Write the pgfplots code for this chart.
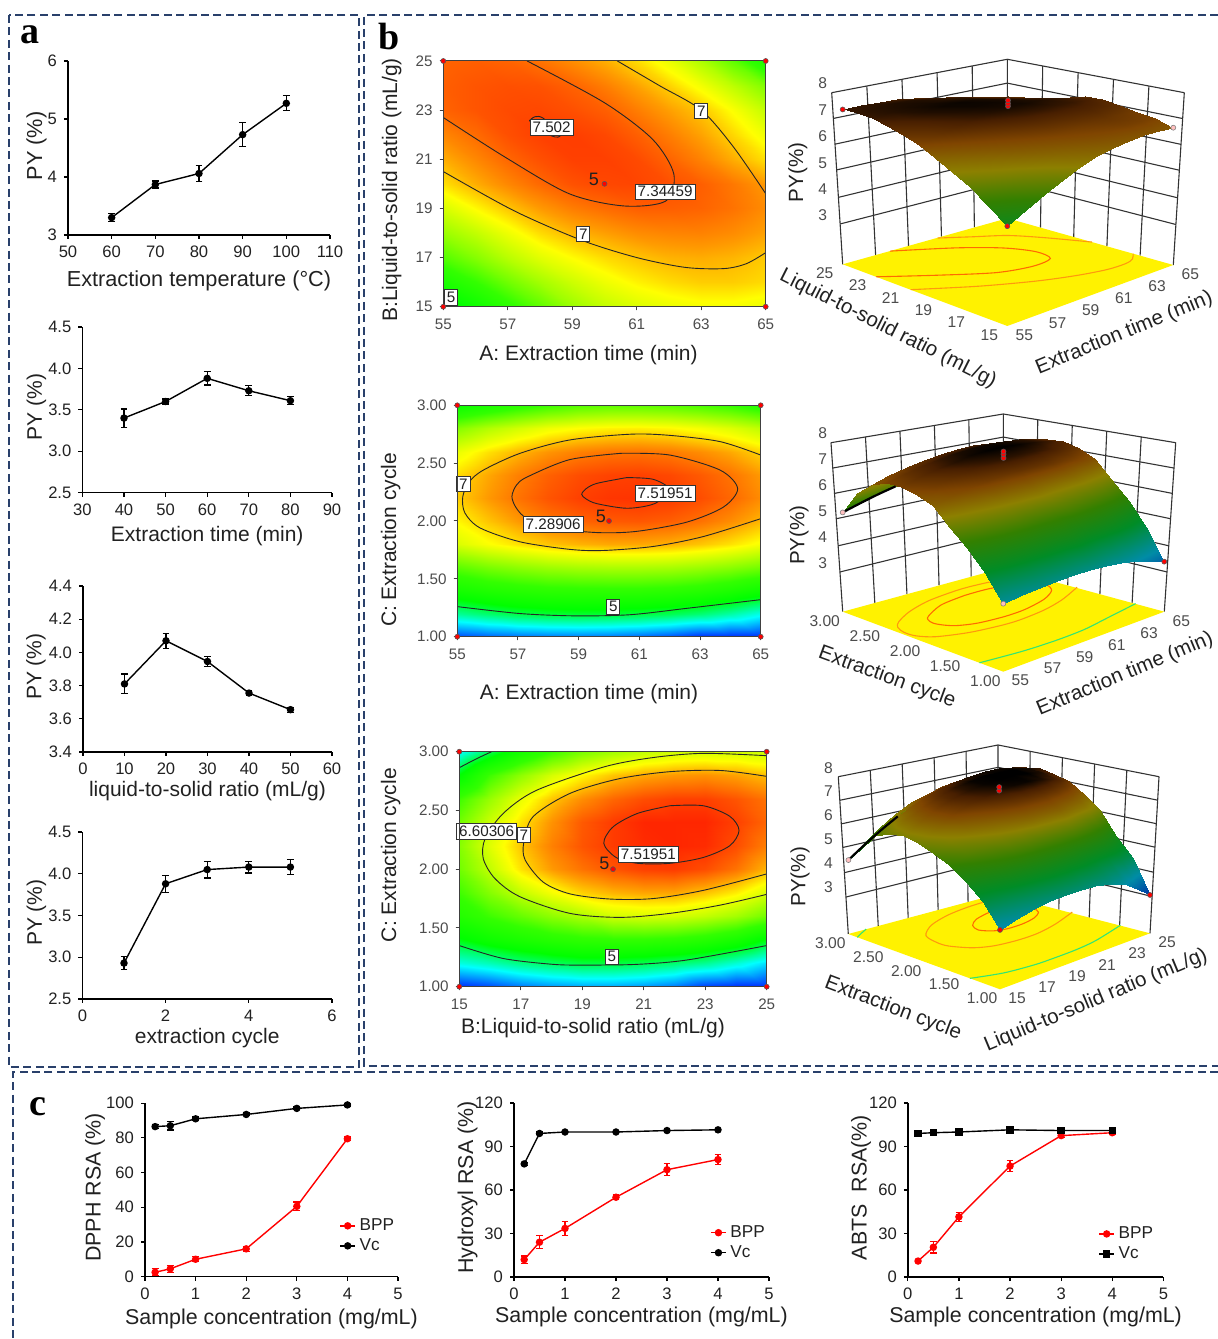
\documentclass[border=0pt]{standalone}
\usepackage{fontspec}
\usepackage{pgfplots}
\usepackage{pgfplotstable}
\pgfplotsset{compat=1.18}
\usetikzlibrary{calc}
\setmainfont{Liberation Sans}
\newfontfamily\lserif{Liberation Serif}
\definecolor{lab}{gray}{0.13}
\definecolor{navy}{rgb}{0.16,0.25,0.42}
\definecolor{fo}{rgb}{1,.6,.05}
\definecolor{fr}{rgb}{1,.42,0}
\definecolor{fg}{rgb}{.2,.9,.45}
\newcommand{\fs}[1]{\fontsize{#1}{#1}\selectfont}
% ---------- response-surface grids read from the contour maps
\pgfplotstableread[row sep=\\]{x y z\\
55 15 5.0\\56 15 5.35\\57 15 5.7\\58 15 6.0\\59 15 6.3\\60 15 6.5\\61 15 6.62\\62 15 6.7\\63 15 6.75\\64 15 6.75\\65 15 6.7\\
55 16 5.5\\56 16 5.8\\57 16 6.1\\58 16 6.35\\59 16 6.55\\60 16 6.72\\61 16 6.84\\62 16 6.92\\63 16 6.97\\64 16 6.97\\65 16 6.92\\
55 17 5.95\\56 17 6.2\\57 17 6.45\\58 17 6.65\\59 17 6.8\\60 17 6.92\\61 17 7.0\\62 17 7.06\\63 17 7.08\\64 17 7.05\\65 17 6.98\\
55 18 6.3\\56 18 6.5\\57 18 6.72\\58 18 6.92\\59 18 7.05\\60 18 7.13\\61 18 7.2\\62 18 7.23\\63 18 7.24\\64 18 7.2\\65 18 7.12\\
55 19 6.6\\56 19 6.82\\57 19 7.0\\58 19 7.15\\59 19 7.26\\60 19 7.33\\61 19 7.38\\62 19 7.38\\63 19 7.36\\64 19 7.3\\65 19 7.2\\
55 20 6.9\\56 20 7.08\\57 20 7.22\\58 20 7.34\\59 20 7.43\\60 20 7.47\\61 20 7.48\\62 20 7.44\\63 20 7.38\\64 20 7.28\\65 20 7.15\\
55 21 7.08\\56 21 7.22\\57 21 7.35\\58 21 7.44\\59 21 7.5\\60 21 7.5\\61 21 7.46\\62 21 7.36\\63 21 7.24\\64 21 7.08\\65 21 6.9\\
55 22 7.22\\56 22 7.33\\57 22 7.44\\58 22 7.5\\59 22 7.51\\60 22 7.47\\61 22 7.38\\62 22 7.26\\63 22 7.12\\64 22 6.94\\65 22 6.72\\
55 23 7.36\\56 23 7.42\\57 23 7.46\\58 23 7.47\\59 23 7.44\\60 23 7.38\\61 23 7.26\\62 23 7.13\\63 23 7.0\\64 23 6.78\\65 23 6.5\\
55 24 7.38\\56 24 7.42\\57 24 7.44\\58 24 7.43\\59 24 7.37\\60 24 7.26\\61 24 7.12\\62 24 6.96\\63 24 6.75\\64 24 6.48\\65 24 6.18\\
55 25 7.36\\56 25 7.38\\57 25 7.36\\58 25 7.3\\59 25 7.2\\60 25 7.08\\61 25 6.92\\62 25 6.7\\63 25 6.4\\64 25 6.02\\65 25 5.5\\
}\sA
\pgfplotstableread[row sep=\\]{x y z\\
55 1.0 3.90\\56 1.0 3.98\\57 1.0 4.03\\58 1.0 4.06\\59 1.0 4.07\\60 1.0 4.05\\61 1.0 4.00\\62 1.0 3.92\\63 1.0 3.80\\64 1.0 3.62\\65 1.0 3.40\\
55 1.2 4.78\\56 1.2 4.90\\57 1.2 5.00\\58 1.2 5.05\\59 1.2 5.07\\60 1.2 5.06\\61 1.2 5.03\\62 1.2 4.97\\63 1.2 4.88\\64 1.2 4.74\\65 1.2 4.55\\
55 1.4 5.45\\56 1.4 5.58\\57 1.4 5.66\\58 1.4 5.72\\59 1.4 5.74\\60 1.4 5.75\\61 1.4 5.75\\62 1.4 5.72\\63 1.4 5.66\\64 1.4 5.55\\65 1.4 5.40\\
55 1.6 6.0\\56 1.6 6.15\\57 1.6 6.25\\58 1.6 6.33\\59 1.6 6.38\\60 1.6 6.40\\61 1.6 6.40\\62 1.6 6.38\\63 1.6 6.32\\64 1.6 6.24\\65 1.6 6.12\\
55 1.8 6.62\\56 1.8 6.78\\57 1.8 6.90\\58 1.8 7.0\\59 1.8 7.06\\60 1.8 7.10\\61 1.8 7.10\\62 1.8 7.07\\63 1.8 7.0\\64 1.8 6.90\\65 1.8 6.76\\
55 2.0 6.82\\56 2.0 7.0\\57 2.0 7.15\\58 2.0 7.28\\59 2.0 7.36\\60 2.0 7.40\\61 2.0 7.41\\62 2.0 7.38\\63 2.0 7.31\\64 2.0 7.2\\65 2.0 7.05\\
55 2.2 6.97\\56 2.2 7.15\\57 2.2 7.30\\58 2.2 7.42\\59 2.2 7.50\\60 2.2 7.54\\61 2.2 7.55\\62 2.2 7.52\\63 2.2 7.45\\64 2.2 7.35\\65 2.2 7.2\\
55 2.4 6.92\\56 2.4 7.1\\57 2.4 7.25\\58 2.4 7.37\\59 2.4 7.45\\60 2.4 7.49\\61 2.4 7.50\\62 2.4 7.47\\63 2.4 7.40\\64 2.4 7.3\\65 2.4 7.15\\
55 2.6 6.7\\56 2.6 6.9\\57 2.6 7.05\\58 2.6 7.17\\59 2.6 7.25\\60 2.6 7.29\\61 2.6 7.30\\62 2.6 7.27\\63 2.6 7.2\\64 2.6 7.1\\65 2.6 6.95\\
55 2.8 6.2\\56 2.8 6.42\\57 2.8 6.58\\58 2.8 6.72\\59 2.8 6.8\\60 2.8 6.84\\61 2.8 6.85\\62 2.8 6.82\\63 2.8 6.75\\64 2.8 6.64\\65 2.8 6.48\\
55 3.0 5.3\\56 3.0 5.5\\57 3.0 5.68\\58 3.0 5.83\\59 3.0 5.95\\60 3.0 6.0\\61 3.0 6.0\\62 3.0 5.97\\63 3.0 5.9\\64 3.0 5.8\\65 3.0 5.62\\
}\sB
\pgfplotstableread[row sep=\\]{x y z\\
15 1.0 3.7\\16 1.0 3.9\\17 1.0 4.05\\18 1.0 4.15\\19 1.0 4.2\\20 1.0 4.2\\21 1.0 4.15\\22 1.0 4.05\\23 1.0 3.85\\24 1.0 3.45\\25 1.0 3.0\\
15 1.2 4.58\\16 1.2 4.7\\17 1.2 4.85\\18 1.2 4.95\\19 1.2 5.03\\20 1.2 5.03\\21 1.2 4.98\\22 1.2 4.9\\23 1.2 4.8\\24 1.2 4.62\\25 1.2 4.4\\
15 1.4 5.15\\16 1.4 5.35\\17 1.4 5.5\\18 1.4 5.63\\19 1.4 5.72\\20 1.4 5.76\\21 1.4 5.76\\22 1.4 5.72\\23 1.4 5.62\\24 1.4 5.45\\25 1.4 5.15\\
15 1.6 5.6\\16 1.6 5.85\\17 1.6 6.05\\18 1.6 6.25\\19 1.6 6.4\\20 1.6 6.58\\21 1.6 6.62\\22 1.6 6.6\\23 1.6 6.5\\24 1.6 6.35\\25 1.6 6.1\\
15 1.8 5.85\\16 1.8 6.2\\17 1.8 6.5\\18 1.8 6.75\\19 1.8 6.95\\20 1.8 7.05\\21 1.8 7.1\\22 1.8 7.1\\23 1.8 7.0\\24 1.8 6.85\\25 1.8 6.6\\
15 2.0 6.1\\16 2.0 6.5\\17 2.0 6.9\\18 2.0 7.15\\19 2.0 7.3\\20 2.0 7.42\\21 2.0 7.5\\22 2.0 7.52\\23 2.0 7.45\\24 2.0 7.3\\25 2.0 7.05\\
15 2.2 6.2\\16 2.2 6.65\\17 2.2 7.0\\18 2.2 7.25\\19 2.2 7.42\\20 2.2 7.52\\21 2.2 7.58\\22 2.2 7.6\\23 2.2 7.58\\24 2.2 7.45\\25 2.2 7.25\\
15 2.4 6.1\\16 2.4 6.55\\17 2.4 6.9\\18 2.4 7.18\\19 2.4 7.4\\20 2.4 7.52\\21 2.4 7.6\\22 2.4 7.62\\23 2.4 7.6\\24 2.4 7.5\\25 2.4 7.35\\
15 2.6 5.85\\16 2.6 6.3\\17 2.6 6.7\\18 2.6 7.0\\19 2.6 7.2\\20 2.6 7.35\\21 2.6 7.45\\22 2.6 7.5\\23 2.6 7.5\\24 2.6 7.42\\25 2.6 7.3\\
15 2.8 5.2\\16 2.8 5.85\\17 2.8 6.25\\18 2.8 6.6\\19 2.8 6.82\\20 2.8 7.0\\21 2.8 7.1\\22 2.8 7.15\\23 2.8 7.18\\24 2.8 7.12\\25 2.8 7.02\\
15 3.0 4.5\\16 3.0 5.0\\17 3.0 5.45\\18 3.0 5.85\\19 3.0 6.15\\20 3.0 6.35\\21 3.0 6.5\\22 3.0 6.58\\23 3.0 6.6\\24 3.0 6.6\\25 3.0 6.55\\
}\sC
% ---------- contour lines
\pgfplotstableread[row sep=\\]{x y\\60.4 25\\61.7 24\\63 23\\64 21.5\\65 19.6\\}\ctAa
\pgfplotstableread[row sep=\\]{x y\\57.6 25\\60 23.3\\61.5 21.8\\62.15 20.4\\61.9 19.3\\60.6 19.1\\58.9 19.6\\56.9 21.1\\55 22.7\\}\ctAb
\pgfplotstableread[row sep=\\]{x y\\55 20.5\\57.2 18.9\\59.3 17.7\\61 17\\62.5 16.6\\63.7 16.55\\64.4 16.75\\65 17.2\\}\ctAc
\pgfplotstableread[row sep=\\]{x y\\57.67 22.57\\57.84 22.73\\58.1 22.67\\58.62 21.99\\58.36 21.95\\57.67 22.57\\}\ctAd
\pgfplotstableread[row sep=\\]{x y\\55 1.26\\57.07 1.2\\58.9 1.18\\60.7 1.19\\62.56 1.245\\65 1.32\\}\ctBa
\pgfplotstableread[row sep=\\]{x y\\65 2.57\\63.66 2.686\\62 2.74\\60.7 2.75\\58.7 2.70\\57.07 2.585\\55.86 2.44\\55.4 2.34\\55.18 2.21\\55.25 2.07\\55.75 1.94\\57.07 1.82\\58.7 1.755\\59.8 1.745\\61.46 1.78\\63.1 1.865\\65 2.02\\}\ctBb
\pgfplotstableread[row sep=\\]{x y\\60.4 2.585\\62 2.57\\63.66 2.44\\64.24 2.28\\63.77 2.12\\62.56 1.99\\60.9 1.91\\59.6 1.9\\58.16 1.94\\57.3 2.02\\56.95 2.11\\56.8 2.21\\56.95 2.31\\57.3 2.38\\58.7 2.53\\60.4 2.585\\}\ctBc
\pgfplotstableread[row sep=\\]{x y\\60.58 2.375\\61.46 2.36\\62 2.27\\61.5 2.15\\60.6 2.11\\59.6 2.15\\59.25 2.19\\59.1 2.23\\59.25 2.28\\59.6 2.325\\60.58 2.375\\}\ctBd
\pgfplotstableread[row sep=\\]{x y\\21.85 2.54\\22.94 2.54\\23.8 2.45\\24.1 2.33\\23.8 2.2\\22.94 2.1\\21.85 2.05\\20.8 2.05\\20.1 2.1\\19.7 2.22\\20 2.36\\20.8 2.475\\21.85 2.54\\}\ctCa
\pgfplotstableread[row sep=\\]{x y\\25 2.79\\23.5 2.84\\21.85 2.83\\20.2 2.77\\18.6 2.645\\17.4 2.447\\17.1 2.23\\17.14 2.08\\17.73 1.89\\18.6 1.79\\19.9 1.746\\21.3 1.75\\22.94 1.82\\25 1.96\\}\ctCb
\pgfplotstableread[row sep=\\]{x y\\25 2.966\\22.94 2.986\\21.3 2.95\\19.7 2.87\\17.5 2.67\\16.43 2.475\\15.84 2.26\\15.78 2.09\\16.16 1.92\\16.97 1.766\\18.6 1.624\\20.23 1.59\\21.85 1.624\\23.5 1.695\\25 1.786\\}\ctCc
\pgfplotstableread[row sep=\\]{x y\\15 1.35\\16.43 1.24\\18.06 1.19\\19.14 1.184\\20.77 1.19\\22.4 1.227\\25 1.35\\}\ctCd
\pgfplotstableread[row sep=\\]{x y\\15 2.864\\15.56 2.94\\16.05 3.0\\}\ctCe
\newcommand{\addz}[1]{\pgfplotstablecreatecol[create col/set={8}]{z}{#1}}
\addz\ctAa \addz\ctAb \addz\ctAc \addz\ctAd \addz\ctBa \addz\ctBb \addz\ctBc \addz\ctBd \addz\ctCa \addz\ctCb \addz\ctCc \addz\ctCd \addz\ctCe
% ---------- view transform of the 3-D plots: the camera's foreshortening
\newcommand{\defview}[6]{\pgfplotsset{/pgfplots/table/#1/.style={
  x expr={#2+#3*1.1667*((\thisrow{x}-#2)/#3)/(1+.1667*((\thisrow{x}-#2)/#3+(\thisrow{y}-#4)/#5))},
  y expr={#4+#5*1.1667*((\thisrow{y}-#4)/#5)/(1+.1667*((\thisrow{x}-#2)/#3+(\thisrow{y}-#4)/#5))},
  z expr={#6+(\thisrow{z}-#6)*1.08/(1+.08*((\thisrow{x}-#2)/#3+(\thisrow{y}-#4)/#5))}}}}
\defview{vA}{55}{10}{15}{10}{1.5}
\defview{vB}{55}{10}{1}{2}{1.47}
\defview{vC}{15}{10}{1}{2}{1.39}
% ---------- styles
\pgfplotsset{
  /pgf/number format/assume math mode=true,
  colormap={heat}{rgb(38pt)=(0,.15,1) rgb(45pt)=(0,1,1) rgb(52pt)=(0,1,0) rgb(58pt)=(.2,1,0) rgb(68pt)=(1,1,0) rgb(71.5pt)=(1,.6,0) rgb(76pt)=(1,.15,0)},
  colormap={dark}{rgb(30pt)=(0,.2,.65) rgb(38pt)=(0,.55,.65) rgb(48pt)=(0,.55,.15) rgb(56pt)=(.2,.5,0) rgb(63pt)=(.55,.5,0) rgb(69pt)=(.5,.27,0) rgb(73pt)=(.28,.12,0) rgb(75.5pt)=(0,0,0)},
  lab/.style n args={5}{
    every axis x label/.style={at={(axis description cs:0.5,0)},anchor=center,xshift=#1,yshift=#2,font=\fs{#5},text=lab},
    every axis y label/.style={at={(axis description cs:0,0.5)},anchor=center,xshift=#3,yshift=#4,rotate=90,font=\fs{#5},text=lab}},
  lp/.style={scale only axis,axis x line*=bottom,axis y line*=left,tick align=outside,major tick length=2pt,
    axis line style={line width=.7pt,-},tick style={black,line width=.6pt},
    tick label style={font=\fs{8.3},text=lab}},
  ln/.style={black,line width=.7pt,mark=*,mark size=1.5pt,mark options={solid,fill=black,draw=black},
    error bars/y dir=both,error bars/y explicit,error bars/error bar style={line width=.6pt,black},
    error bars/error mark options={rotate=90,mark size=1.7pt,line width=.6pt,black}},
  lnr/.style={red,line width=.7pt,mark=*,mark size=1.5pt,mark options={solid,fill=red,draw=red},
    error bars/y dir=both,error bars/y explicit,error bars/error bar style={line width=.6pt,red},
    error bars/error mark options={rotate=90,mark size=1.7pt,line width=.6pt,red}},
  ct/.style={scale only axis,view={0}{90},axis on top,enlargelimits=false,clip=false,tick align=outside,major tick length=1.8pt,
    xtick pos=bottom,ytick pos=left,axis line style={line width=.5pt,black!75},tick style={black!75,line width=.5pt},
    colormap name=heat,point meta min=3.8,point meta max=7.6,
    tick label style={font=\fs{7.6},text=black!70},xticklabel style={yshift=-1pt}},
  cline/.style={black!85,line width=.45pt,smooth},
  corner/.style={only marks,mark=*,mark size=1.25pt,mark options={fill=red,draw=black!65,line width=.3pt}},
  pinkc/.style={only marks,mark=*,mark size=1.25pt,mark options={fill=pink,draw=black!50,line width=.3pt}},
  edge/.style={black,line width=1.1pt,smooth},
  three/.style={enlargelimits=false,clip=false,axis line style={draw=none},tick align=outside,major tick length=0pt,
    colormap name=dark,point meta min=3,point meta max=7.55,
    tick label style={font=\fs{7.8},text=black!70,anchor=center},
    xticklabel style={xshift=8.5pt,yshift=-4.5pt},yticklabel style={xshift=-9pt,yshift=-4.5pt},zticklabel style={xshift=-10pt,yshift=4.5pt}},
  fl/.style={line width=.55pt,smooth},
  cp/.style={lp,xmin=0,xmax=5,ymin=0,xtick={0,...,5},
    legend style={draw=none,fill=none,font=\fs{8.6},text=lab,row sep=-1.4pt,/tikz/every even column/.append style={column sep=4pt}},
    legend cell align=left,
    legend image code/.code={\draw[##1,mark repeat=2,mark phase=2] plot coordinates {(0pt,0pt)(3.6pt,0pt)(7.2pt,0pt)};}},
}
\newcommand{\walls}[7]{%
  \coordinate (Lb) at #1; \coordinate (Lt) at #2; \coordinate (Bb) at #3; \coordinate (Bt) at #4;
  \coordinate (Rb) at #5; \coordinate (Rt) at #6; \coordinate (Fr) at #7;
  \foreach \f in {.235,.39,.55,.70,.85,1}{\draw[black!80,line width=.55pt] ($(Lb)!\f!(Lt)$) -- ($(Bb)!\f!(Bt)$) -- ($(Rb)!\f!(Rt)$);}
  \foreach \t in {.2,.4,.6,.8}{
    \draw[black!80,line width=.55pt] ($(Lb)!\t!(Bb)$) -- ($(Lt)!\t!(Bt)$);
    \draw[black!80,line width=.55pt] ($(Rb)!\t!(Bb)$) -- ($(Rt)!\t!(Bt)$);}
  \draw[black!80,line width=.55pt] (Lb)--(Lt) (Bb)--(Bt) (Rb)--(Rt);
  \fill[yellow] (Lb)--(Bb)--(Rb)--(Fr)--cycle;
}
\begin{document}
\begin{tikzpicture}
\path[use as bounding box] (0,0) rectangle (609pt,669.5pt);
\begin{scope}[x=0.5pt,y=-0.5pt,yshift=669.5pt]
  \begin{scope}[navy,line width=.8pt,dash pattern=on 4pt off 2.2pt]
    \draw (9,15) rectangle (359,1067);
    \draw (1218,15) -- (364,15) -- (364,1066) -- (1218,1066);
    \draw (1218,1072) -- (13,1072) -- (13,1339);
  \end{scope}
  \node[font=\lserif\bfseries\fs{19}] at (30,35) {a};
  \node[font=\lserif\bfseries\fs{19}] at (389,37) {b};
  \node[font=\lserif\bfseries\fs{19}] at (38,1107) {c};
  \walls{(842.7,264.3)}{(831.7,92.7)}{(1007.3,218.3)}{(1007.3,59.3)}{(1173.3,265)}{(1184.3,92.7)}{(1007.3,326)}
  \walls{(842.7,611.7)}{(831,442.7)}{(1003.3,568)}{(1003.3,414)}{(1164.3,611.7)}{(1175.7,442.7)}{(1003.3,671.7)}
  \walls{(848.3,934)}{(838.3,776.7)}{(998,894)}{(998,745)}{(1150,933.3)}{(1159,776.7)}{(1000,989.3)}
\end{scope}

% ----- panel a
\begin{axis}[lp,lab={0pt}{-23pt}{-15.7pt}{1pt}{10.85},at={(34pt,552pt)},width=131pt,height=87pt,xmin=50,xmax=110,ymin=3,ymax=6,xtick={50,60,...,110},ytick={3,4,5,6},xlabel={Extraction temperature (°C)},ylabel={PY (\%)}]
\addplot[ln] coordinates {(60,3.3)+-(0,.07)(70,3.87)+-(0,.06)(80,4.06)+-(0,.14)(90,4.73)+-(0,.21)(100,5.27)+-(0,.13)};
\end{axis}
\begin{axis}[lp,lab={0pt}{-21.5pt}{-23pt}{1.3pt}{10.5},at={(41.2pt,423.2pt)},width=124.8pt,height=82.8pt,xmin=30,xmax=90,ymin=2.5,ymax=4.5,xtick={30,40,...,90},ytick={2.5,3,3.5,4,4.5},yticklabel style={/pgf/number format/fixed,/pgf/number format/fixed zerofill,/pgf/number format/precision=1},xlabel={Extraction time (min)},ylabel={PY (\%)}]
\addplot[ln] coordinates {(40,3.4)+-(0,.11)(50,3.6)+-(0,.03)(60,3.88)+-(0,.08)(70,3.73)+-(0,.06)(80,3.61)+-(0,.05)};
\end{axis}
\begin{axis}[lp,lab={0pt}{-19.5pt}{-23.5pt}{1.2pt}{10.5},at={(41.5pt,293.5pt)},width=124.5pt,height=83pt,xmin=0,xmax=60,ymin=3.4,ymax=4.4,xtick={0,10,...,60},ytick={3.4,3.6,3.8,4.0,4.2,4.4},yticklabel style={/pgf/number format/fixed,/pgf/number format/fixed zerofill,/pgf/number format/precision=1},xlabel={liquid-to-solid ratio (mL/g)},ylabel={PY (\%)}]
\addplot[ln] coordinates {(10,3.81)+-(0,.06)(20,4.07)+-(0,.045)(30,3.945)+-(0,.03)(40,3.755)+-(0,.012)(50,3.655)+-(0,.015)};
\end{axis}
\begin{axis}[lp,lab={0pt}{-19.5pt}{-23pt}{1.4pt}{10.5},at={(41.2pt,170pt)},width=124.8pt,height=83.5pt,xmin=0,xmax=6,ymin=2.5,ymax=4.5,xtick={0,2,4,6},ytick={2.5,3,3.5,4,4.5},yticklabel style={/pgf/number format/fixed,/pgf/number format/fixed zerofill,/pgf/number format/precision=1},xlabel={extraction cycle},ylabel={PY (\%)}]
\addplot[ln] coordinates {(1,2.93)+-(0,.08)(2,3.88)+-(0,.1)(3,4.05)+-(0,.1)(4,4.08)+-(0,.07)(5,4.08)+-(0,.09)};
\end{axis}

% ----- panel c
\begin{axis}[cp,lab={0pt}{-21pt}{-25pt}{1.2pt}{10.7},at={(72.5pt,31.2pt)},width=126.5pt,height=86.7pt,ymax=100,ytick={0,20,...,100},xlabel={Sample concentration (mg/mL)},ylabel={DPPH RSA (\%)},legend style={at={(axis description cs:.885,.235)},anchor=center}]
\addplot[lnr] coordinates {(.2,2.5)+-(0,2)(.5,4.5)+-(0,2)(1,10)+-(0,1.5)(2,16)+-(0,1.5)(3,40.5)+-(0,2.5)(4,79.5)+-(0,1)};
\addplot[ln] coordinates {(.2,86.5)+-(0,1)(.5,87)+-(0,2.5)(1,91)+-(0,1)(2,93.5)+-(0,.8)(3,97)+-(0,.8)(4,99)+-(0,.8)};
\legend{BPP,Vc}
\end{axis}
\begin{axis}[cp,lab={0pt}{-20pt}{-23.2pt}{1.2pt}{10.7},at={(257pt,31pt)},width=127.5pt,height=87pt,ymax=120,ytick={0,30,...,120},xlabel={Sample concentration (mg/mL)},ylabel={Hydroxyl RSA (\%)},legend style={at={(axis description cs:.885,.197)},anchor=center}]
\addplot[lnr] coordinates {(.2,12)+-(0,2.5)(.5,24)+-(0,4.5)(1,33.5)+-(0,5)(2,55)+-(0,1.5)(3,74)+-(0,4)(4,81)+-(0,3.5)};
\addplot[ln] coordinates {(.2,78)+-(0,1)(.5,99)+-(0,1)(1,100)+-(0,1)(2,100)+-(0,.5)(3,101)+-(0,.7)(4,101.5)+-(0,.5)};
\legend{BPP,Vc}
\end{axis}
\begin{axis}[cp,lab={0pt}{-20pt}{-23.3pt}{1.2pt}{10.7},at={(453.9pt,31pt)},width=127.8pt,height=87pt,ymax=120,ytick={0,30,...,120},xlabel={Sample concentration (mg/mL)},ylabel={ABTS\ \ RSA(\%)},legend style={at={(axis description cs:.861,.19)},anchor=center}]
\addplot[lnr] coordinates {(.2,11)+-(0,1)(.5,20.5)+-(0,4)(1,41.5)+-(0,3)(2,76.5)+-(0,4)(3,97.5)+-(0,1.5)(4,99.5)+-(0,1)};
\addplot[ln,mark=square*] coordinates {(.2,99)+-(0,1)(.5,99.5)+-(0,1)(1,100)+-(0,.8)(2,101.5)+-(0,1)(3,101)+-(0,1)(4,101)+-(0,1)};
\legend{BPP,Vc}
\end{axis}

% ----- panel b, contour maps
\begin{axis}[ct,lab={-8pt}{-24.3pt}{-25.8pt}{-3pt}{10.5},at={(221.65pt,516.15pt)},width=161.2pt,height=122.85pt,xmin=55,xmax=65,ymin=15,ymax=25,xtick={55,57,...,65},ytick={15,17,...,25},xlabel={A: Extraction time (min)},ylabel={B:Liquid-to-solid ratio (mL/g)}]
\addplot3[surf,shader=interp,mesh/cols=11] table {\sA};
\addplot3[cline] table[x=x,y=y,z expr=8] {\ctAa};
\addplot3[cline] table[x=x,y=y,z expr=8] {\ctAb};
\addplot3[cline] table[x=x,y=y,z expr=8] {\ctAc};
\addplot3[cline] table[x=x,y=y,z expr=8] {\ctAd};
\addplot3[corner] coordinates {(55,15,8)(65,15,8)(55,25,8)(65,25,8)(60,20,8)};
\begin{scope}[every node/.style={fill=white,draw=black!80,line width=.4pt,inner sep=1.2pt,font=\fs{7.6},text=lab}]
\node at (axis cs:63,22.97,8) {7};
\node at (axis cs:58.36,22.3,8) {7.502};
\node at (axis cs:61.88,19.68,8) {7.34459};
\node at (axis cs:59.34,17.96,8) {7};
\node at (axis cs:55.24,15.38,8) {5};
\end{scope}
\node[font=\fs{9},text=lab] at (axis cs:59.67,20.2,8) {5};
\end{axis}
\begin{axis}[ct,lab={-10pt}{-28.8pt}{-33.3pt}{-9.5pt}{10.5},at={(228.65pt,351.15pt)},width=151.7pt,height=115.7pt,xmin=55,xmax=65,ymin=1,ymax=3,xtick={55,57,...,65},ytick={1,1.5,...,3},yticklabel style={/pgf/number format/fixed,/pgf/number format/fixed zerofill,/pgf/number format/precision=2},xlabel={A: Extraction time (min)},ylabel={C: Extraction cycle}]
\addplot3[surf,shader=interp,mesh/cols=11] table {\sB};
\addplot3[cline] table[x=x,y=y,z expr=8] {\ctBa};
\addplot3[cline] table[x=x,y=y,z expr=8] {\ctBb};
\addplot3[cline] table[x=x,y=y,z expr=8] {\ctBc};
\addplot3[cline] table[x=x,y=y,z expr=8] {\ctBd};
\addplot3[corner] coordinates {(55,1,8)(65,1,8)(55,3,8)(65,3,8)(60,2,8)};
\begin{scope}[every node/.style={fill=white,draw=black!80,line width=.4pt,inner sep=1.2pt,font=\fs{7.6},text=lab}]
\node at (axis cs:55.2,2.32,8) {7};
\node at (axis cs:61.85,2.24,8) {7.51951};
\node at (axis cs:58.16,1.97,8) {7.28906};
\node at (axis cs:60.14,1.26,8) {5};
\end{scope}
\node[font=\fs{9},text=lab] at (axis cs:59.73,2.04,8) {5};
\end{axis}
\begin{axis}[ct,lab={-10pt}{-20.8pt}{-34.3pt}{7pt}{10.5},at={(229.65pt,176.15pt)},width=153.7pt,height=117.5pt,xmin=15,xmax=25,ymin=1,ymax=3,xtick={15,17,...,25},ytick={1,1.5,...,3},yticklabel style={/pgf/number format/fixed,/pgf/number format/fixed zerofill,/pgf/number format/precision=2},xlabel={B:Liquid-to-solid ratio (mL/g)},ylabel={C: Extraction cycle}]
\addplot3[surf,shader=interp,mesh/cols=11] table {\sC};
\addplot3[cline] table[x=x,y=y,z expr=8] {\ctCa};
\addplot3[cline] table[x=x,y=y,z expr=8] {\ctCb};
\addplot3[cline] table[x=x,y=y,z expr=8] {\ctCc};
\addplot3[cline] table[x=x,y=y,z expr=8] {\ctCd};
\addplot3[cline] table[x=x,y=y,z expr=8] {\ctCe};
\addplot3[cline] coordinates {(22.6,3,8)(24.13,3,8)};
\addplot3[corner] coordinates {(15,1,8)(25,1,8)(15,3,8)(25,3,8)(20,2,8)};
\begin{scope}[every node/.style={fill=white,draw=black!80,line width=.4pt,inner sep=1.2pt,font=\fs{7.6},text=lab}]
\node at (axis cs:15.89,2.32,8) {6.60306};
\node at (axis cs:17.1,2.29,8) {7};
\node at (axis cs:21.15,2.126,8) {7.51951};
\node at (axis cs:19.96,1.255,8) {5};
\end{scope}
\node[font=\fs{9},text=lab] at (axis cs:19.72,2.05,8) {5};
\end{axis}

% ----- panel b, response surfaces
\begin{axis}[three,at={(504pt,506.5pt)},anchor=south,x={(8.3pt,3.05pt)},y={(-8.23pt,3.09pt)},z={(0pt,13.2pt)},
  xmin=55,xmax=65,ymin=15,ymax=25,zmin=1.5,zmax=8,xtick={55,57,...,65},ytick={15,17,...,25},ztick={3,...,8},
  xlabel={Extraction time (min)},ylabel={Liquid-to-solid ratio (mL/g)},zlabel={PY(\%)},
  every axis x label/.style={at={(axis cs:57.97,10.89,1.5)},anchor=center,rotate=22.3,font=\fs{10.3},text=lab},
  every axis y label/.style={at={(axis cs:51.13,18.345,1.5)},anchor=center,rotate=-26.7,font=\fs{10.3},text=lab},
  every axis z label/.style={at={(axis cs:53.63,26.35,4.98)},anchor=center,rotate=90,font=\fs{10.3},text=lab}]
\addplot3[fl,fo] table[vA,z expr=1.5] {\ctAa};
\addplot3[fl,fr] table[vA,z expr=1.5] {\ctAb};
\addplot3[fl,fo] table[vA,z expr=1.5] {\ctAc};
\addplot3[surf,shader=interp,z buffer=sort,mesh/cols=11,point meta=\thisrow{z}] table[vA] {\sA};
\addplot3[corner] table[vA,row sep=\\] {x y z\\55 25 7.36\\55 15 5\\60 20 7.5\\60 20 7.6\\60 20 7.72\\};
\addplot3[pinkc] table[vA,row sep=\\] {x y z\\65 15 6.7\\};
\end{axis}
\begin{axis}[three,at={(501.75pt,333.65pt)},anchor=south,x={(8.05pt,3pt)},y={(-40.15pt,15pt)},z={(0pt,12.96pt)},
  xmin=55,xmax=65,ymin=1,ymax=3,zmin=1.47,zmax=8,xtick={55,57,...,65},ytick={1,1.5,...,3},ztick={3,...,8},
  yticklabel style={/pgf/number format/fixed,/pgf/number format/fixed zerofill,/pgf/number format/precision=2},
  xlabel={Extraction time (min)},ylabel={Extraction cycle},zlabel={PY(\%)},
  every axis x label/.style={at={(axis cs:58.55,.1965,1.47)},anchor=center,rotate=22.6,font=\fs{10.3},text=lab},
  every axis y label/.style={at={(axis cs:50.9,1.626,1.47)},anchor=center,rotate=-20,font=\fs{10.3},text=lab},
  every axis z label/.style={at={(axis cs:53.64,3.27,4.43)},anchor=center,rotate=90,font=\fs{10.3},text=lab}]
\addplot3[fl,fo] table[vB,z expr=1.47] {\ctBb};
\addplot3[fl,fr] table[vB,z expr=1.47] {\ctBc};
\addplot3[fl,fg] table[vB,z expr=1.47] {\ctBa};
\addplot3[surf,shader=interp,z buffer=sort,mesh/cols=11,point meta=\thisrow{z}] table[vB] {\sB};
\addplot3[edge] table[vB,row sep=\\] {x y z\\55 3.0 5.3\\56 3.0 5.5\\57 3.0 5.68\\58 3.0 5.83\\};
\addplot3[corner] table[vB,row sep=\\] {x y z\\65 1 3.4\\60 2 7.4\\60 2 7.55\\60 2 7.65\\};
\addplot3[pinkc] table[vB,row sep=\\] {x y z\\55 3 5.3\\55 1 3.9\\};
\end{axis}
\begin{axis}[three,at={(499.6pt,174.85pt)},anchor=south,x={(7.5pt,2.8pt)},y={(-37.9pt,13.8pt)},z={(0pt,11.9pt)},
  xmin=15,xmax=25,ymin=1,ymax=3,zmin=1.39,zmax=8,xtick={15,17,...,25},ytick={1,1.5,...,3},ztick={3,...,8},
  yticklabel style={/pgf/number format/fixed,/pgf/number format/fixed zerofill,/pgf/number format/precision=2},
  xlabel={Liquid-to-solid ratio (mL/g)},ylabel={Extraction cycle},zlabel={PY(\%)},
  every axis x label/.style={at={(axis cs:17.15,.1595,1.39)},anchor=center,rotate=22.6,font=\fs{10.3},text=lab},
  every axis y label/.style={at={(axis cs:9.74,1.371,1.39)},anchor=center,rotate=-20.8,font=\fs{10.3},text=lab},
  every axis z label/.style={at={(axis cs:13.41,3.322,3.8)},anchor=center,rotate=90,font=\fs{10.3},text=lab}]
\addplot3[fl,fo] table[vC,z expr=1.39] {\ctCb};
\addplot3[fl,fr] table[vC,z expr=1.39] {\ctCa};
\addplot3[fl,fg] table[vC,z expr=1.39] {\ctCd};
\addplot3[fl,fg] table[vC,z expr=1.39] {\ctCe};
\addplot3[surf,shader=interp,z buffer=sort,mesh/cols=11,point meta=\thisrow{z}] table[vC] {\sC};
\addplot3[edge] table[vC,row sep=\\] {x y z\\15 3.0 4.5\\16 3.0 5.0\\17 3.0 5.45\\18 3.0 5.85\\};
\addplot3[corner] table[vC,row sep=\\] {x y z\\15 1 3.7\\25 1 3.0\\20 2 7.4\\20 2 7.55\\};
\addplot3[pinkc] table[vC,row sep=\\] {x y z\\15 3 4.5\\};
\end{axis}
\end{tikzpicture}
\end{document}
